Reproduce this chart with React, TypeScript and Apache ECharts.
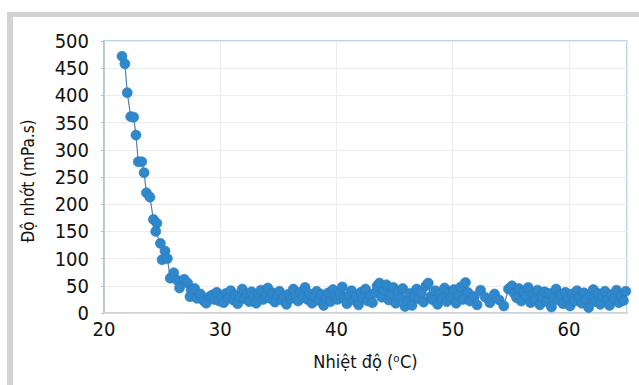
import React, { useEffect, useRef } from "react";
import * as echarts from "echarts";

// Viscosity curve: temperature (°C) vs viscosity (mPa.s)
const steepTemps = [21.55, 21.8, 22.0, 22.3, 22.55, 22.75, 22.95, 23.25, 23.45, 23.65, 23.95, 24.25, 24.55, 24.45, 24.85, 25.25, 25.0, 25.45, 25.7, 26.0, 26.3, 26.5, 26.9, 27.2, 27.5, 27.4, 27.8, 28.0, 28.3, 28.6, 28.8, 29.1, 29.3];
const steepVisc = [472, 458, 405, 361, 360, 327, 278, 278, 258, 221, 213, 172, 165, 150, 128, 114, 98, 100, 64, 74, 60, 46, 62, 55, 42, 30, 45, 27, 35, 22, 18, 30, 33];

const flatTemps = [
  29.5, 29.7, 29.9, 30.1, 30.3, 30.5, 30.7, 30.9, 31.1, 31.3, 31.5, 31.7, 31.9, 32.1, 32.3, 32.5, 32.7, 32.9, 33.1, 33.3, 33.5, 33.7, 33.9, 34.1, 34.3, 34.5, 34.7, 34.9,
  35.1, 35.3, 35.5, 35.7, 35.9, 36.1, 36.3, 36.5, 36.7, 36.9, 37.1, 37.3, 37.5, 37.7, 37.9, 38.1, 38.3, 38.5, 38.7, 38.9, 39.1, 39.3, 39.5, 39.7, 39.9,
  40.1, 40.3, 40.5, 40.7, 40.9, 41.1, 41.3, 41.5, 41.7, 41.9, 42.1, 42.3, 42.5, 42.7, 42.9, 43.1, 43.3, 43.5, 43.7, 43.9, 44.1, 44.3, 44.5, 44.7, 44.9,
  45.1, 45.3, 45.5, 45.7, 45.9, 46.1, 46.3, 46.5, 46.7, 46.9, 47.1, 47.3, 47.5, 47.7, 47.9, 48.1, 48.3, 48.5, 48.7, 48.9, 49.1, 49.3, 49.5, 49.7, 49.9,
  50.1, 50.3, 50.5, 50.7, 50.9, 51.1, 51.3, 51.5, 51.8, 52.1, 52.4, 52.8, 53.2, 53.6, 54.0, 54.4, 54.8,
  55.1, 55.3, 55.5, 55.7, 55.9, 56.1, 56.3, 56.5, 56.7, 56.9, 57.1, 57.3, 57.5, 57.7, 57.9, 58.1, 58.3, 58.5, 58.7, 58.9, 59.1, 59.3, 59.5, 59.7, 59.9,
  60.1, 60.3, 60.5, 60.7, 60.9, 61.1, 61.3, 61.5, 61.7, 61.9, 62.1, 62.3, 62.5, 62.7, 62.9, 63.1, 63.3, 63.5, 63.7, 63.9, 64.1, 64.3, 64.5, 64.7, 64.9,
];
const flatVisc = [
  25, 38, 22, 32, 19, 36, 28, 41, 24, 33, 17, 30, 44, 26, 35, 21, 39, 29, 18, 34, 42, 25, 31, 46, 27, 37, 20, 33,
  40, 24, 30, 16, 35, 27, 44, 32, 22, 38, 29, 47, 25, 35, 18, 31, 40, 23, 34, 14, 28, 37, 21, 43, 30,
  25, 36, 48, 27, 17, 33, 41, 24, 30, 15, 38, 28, 44, 22, 33, 19, 37, 50, 55, 29, 42, 52, 24, 35, 47,
  18, 39, 28, 45, 12, 22, 36, 14, 31, 44, 26, 38, 20, 50, 55, 30, 24, 41, 16, 34, 27, 46, 21, 37, 29,
  43, 18, 33, 48, 25, 56, 38, 22, 31, 15, 42, 29, 19, 35, 24, 13, 44,
  50, 36, 28, 45, 22, 38, 31, 47, 19, 34, 26, 42, 15, 30, 39, 21, 36, 11, 28, 44, 24, 33, 17, 38, 27,
  13, 35, 22, 41, 29, 18, 37, 25, 10, 32, 43, 21, 36, 16, 30, 40, 24, 14, 34, 27, 42, 19, 31, 23, 40,
];

const xTicks = [20, 30, 40, 50, 60];

const FONT = "'DejaVu Sans Condensed', 'Liberation Sans Narrow', sans-serif";

export default function App() {
  const ref = useRef<HTMLDivElement>(null);

  useEffect(() => {
    if (!ref.current) return;
    const chart = echarts.init(ref.current, undefined, { renderer: "svg" });

    const temps = [...steepTemps, ...flatTemps];
    const visc = [...steepVisc, ...flatVisc];
    const points = temps.map((t, i) => [t, visc[i]]);

    chart.setOption({
      animation: false,
      backgroundColor: "#ffffff",
      graphic: [
        { type: "rect", shape: { x: 7, y: 12, width: 632, height: 5 }, style: { fill: "#d2d2d2" }, silent: true },
        { type: "rect", shape: { x: 7, y: 12, width: 6, height: 373 }, style: { fill: "#d2d2d2" }, silent: true },
      ],
      grid: {
        left: 104,
        right: 12,
        top: 41,
        bottom: 72,
        show: true,
        borderColor: "#a9c4e2",
        borderWidth: 1.5,
        containLabel: false,
      },
      xAxis: {
        type: "value",
        min: 20,
        max: 65,
        interval: 10,
        name: "Nhiệt độ (ᵒC)",
        nameLocation: "middle",
        nameGap: 39,
        nameMoveOverlap: false,
        nameTextStyle: { fontFamily: FONT, fontSize: 18, color: "#111" },
        axisLine: { show: true, lineStyle: { color: "#d4d4d4", width: 1.5 } },
        axisTick: { show: false },
        axisLabel: {
          fontFamily: FONT,
          fontSize: 20,
          color: "#111",
          margin: 6,
          customValues: xTicks,
        },
        splitLine: { show: true, lineStyle: { color: "#ececec", width: 1 } },
      },
      yAxis: {
        type: "value",
        min: 0,
        max: 500,
        interval: 50,
        name: "Độ nhớt (mPa.s)",
        nameLocation: "middle",
        nameGap: 68,
        nameMoveOverlap: false,
        nameTextStyle: { fontFamily: FONT, fontSize: 17, color: "#111", padding: [0, 0, 0, -8] },
        axisLine: { show: true, lineStyle: { color: "#b3bfd0", width: 1.5 } },
        axisTick: { show: true, length: 3, lineStyle: { color: "#b3bfd0" } },
        axisLabel: { fontFamily: FONT, fontSize: 20, color: "#111", margin: 15 },
        splitLine: { show: true, lineStyle: { color: "#ececec", width: 1 } },
      },
      series: [
        {
          type: "line",
          data: points,
          symbol: "circle",
          symbolSize: 10,
          showSymbol: true,
          showAllSymbol: true,
          lineStyle: { color: "#4f82b3", width: 1.2 },
          itemStyle: { color: "#2f87cc", borderColor: "#2a7abb", borderWidth: 0.6 },
          emphasis: { disabled: true },
        },
      ],
    });

    return () => chart.dispose();
  }, []);

  return (
    <div
      ref={ref}
      style={{ position: "fixed", left: 0, top: 0, width: 639, height: 385 }}
    />
  );
}
